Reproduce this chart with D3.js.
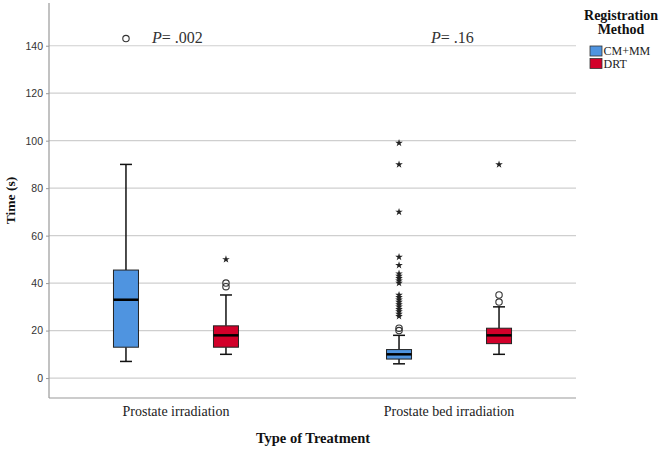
<!DOCTYPE html>
<html><head><meta charset="utf-8">
<script src="https://cdn.jsdelivr.net/npm/d3@7"></script>
<style>body{margin:0;background:#fff}svg{display:block}
.serif{font-family:"Liberation Serif","Times New Roman",serif !important}
</style>
</head><body><div id="chart"></div>
<script>
const categories = ["Prostate irradiation", "Prostate bed irradiation"];
const series = ["CM+MM", "DRT"];
const colors = ["#4f94e0", "#d2002a"];
// box stats: [whiskerLow, q1, median, q3, whiskerHigh]
const boxCMMM = [[7, 13, 33, 45.5, 90], [6, 8, 10, 12, 18]];
const boxDRT  = [[10, 13, 18, 22, 35], [10, 14.5, 18, 21, 30]];
const circlesCMMM = [[143], [20, 21]];
const circlesDRT  = [[38.5, 40], [32, 35]];
const starsCMMM = [[], [26, 27, 28, 29, 30, 31, 32, 33, 34, 35, 40, 41, 42, 43, 44, 47.5, 51, 70, 90, 99]];
const starsDRT  = [[50], [90]];
const pLabels = [".002", ".16"];
const yTicks = [0, 20, 40, 60, 80, 100, 120, 140];

const W = 661, H = 450;
const svg = d3.select("#chart").append("svg").attr("width", W).attr("height", H);
const pLeft = 49, pRight = 576, pTop = 3, pBottom = 398;

const y = d3.scaleLinear().domain([-8.4, 158]).range([pBottom, pTop]);
const x = d3.scaleBand().domain(categories).range([pLeft, pRight]).paddingInner(0.5).paddingOuter(0.215);
const xs = d3.scalePoint().domain(series).range([-50, 50]);
const cx = (cat, s) => x(cat) + x.bandwidth() / 2 + xs(s);

// gridlines
svg.append("g").selectAll("line").data(yTicks).join("line")
  .attr("x1", pLeft).attr("x2", pRight).attr("y1", d => y(d)).attr("y2", d => y(d))
  .attr("stroke", "#cfcfcf").attr("stroke-width", 1.2);

// y axis
const yAxis = svg.append("g").attr("transform", `translate(${pLeft},0)`)
  .call(d3.axisLeft(y).tickValues(yTicks).tickSize(3).tickPadding(3));
yAxis.select(".domain").remove();
yAxis.selectAll(".tick line").attr("stroke", "#999");
yAxis.selectAll("text").style("font-family", "'Liberation Sans', Arial, sans-serif").style("font-size", "10.5px").attr("fill", "#333");
svg.append("line").attr("x1", pLeft).attr("x2", pLeft).attr("y1", pTop).attr("y2", pBottom).attr("stroke", "#999").attr("stroke-width", 1.2);
svg.append("line").attr("x1", pLeft).attr("x2", pRight).attr("y1", pBottom).attr("y2", pBottom).attr("stroke", "#999").attr("stroke-width", 1.2);

// x category labels
const xAxis = svg.append("g").attr("transform", `translate(0,${pBottom})`).call(d3.axisBottom(x).tickSize(0).tickPadding(8));
xAxis.select(".domain").remove();
xAxis.attr("font-family", null);
xAxis.selectAll("text").attr("class", "serif").style("font-size", "14px").attr("fill", "#222");

// titles
svg.append("text").attr("class", "serif").attr("x", 313).attr("y", 443).attr("text-anchor", "middle")
  .attr("font-weight", "bold").style("font-size", "14.5px").attr("fill", "#111")
  .text("Type of Treatment");
svg.append("text").attr("class", "serif").attr("transform", `translate(15,${(pTop + pBottom) / 2}) rotate(-90)`).attr("text-anchor", "middle")
  .attr("font-weight", "bold").style("font-size", "13.5px").attr("fill", "#111")
  .text("Time (s)");

// boxes
const boxW = 25, capW = 12;
const allBoxes = [boxCMMM, boxDRT];
const allCircles = [circlesCMMM, circlesDRT];
const allStars = [starsCMMM, starsDRT];
const star = d3.symbol().type(d3.symbolStar).size(18);
series.forEach((s, si) => {
  categories.forEach((c, ci) => {
    const [lo, q1, med, q3, hi] = allBoxes[si][ci];
    const X = cx(c, s);
    const g = svg.append("g");
    g.append("line").attr("x1", X).attr("x2", X).attr("y1", y(hi)).attr("y2", y(q3)).attr("stroke", "#111").attr("stroke-width", 1.5);
    g.append("line").attr("x1", X).attr("x2", X).attr("y1", y(q1)).attr("y2", y(lo)).attr("stroke", "#111").attr("stroke-width", 1.5);
    g.append("line").attr("x1", X - capW / 2).attr("x2", X + capW / 2).attr("y1", y(hi)).attr("y2", y(hi)).attr("stroke", "#111").attr("stroke-width", 1.5);
    g.append("line").attr("x1", X - capW / 2).attr("x2", X + capW / 2).attr("y1", y(lo)).attr("y2", y(lo)).attr("stroke", "#111").attr("stroke-width", 1.5);
    g.append("rect").attr("x", X - boxW / 2).attr("width", boxW).attr("y", y(q3)).attr("height", y(q1) - y(q3))
      .attr("fill", colors[si]).attr("stroke", "#222").attr("stroke-width", 1);
    g.append("line").attr("x1", X - boxW / 2).attr("x2", X + boxW / 2).attr("y1", y(med)).attr("y2", y(med)).attr("stroke", "#000").attr("stroke-width", 2.5);
    g.selectAll("circle").data(allCircles[si][ci]).join("circle")
      .attr("cx", X).attr("cy", d => y(d)).attr("r", 3.2).attr("fill", "none").attr("stroke", "#333").attr("stroke-width", 1.1);
    g.selectAll("path.star").data(allStars[si][ci]).join("path").attr("class", "star")
      .attr("transform", d => `translate(${X},${y(d)})`).attr("d", star).attr("fill", "#222");
  });
});

// P labels
categories.forEach((c, ci) => {
  const t = svg.append("text").attr("class", "serif").attr("x", ci === 0 ? 152 : 431).attr("y", 43)
    .style("font-size", "16px").attr("fill", "#333");
  t.append("tspan").attr("font-style", "italic").text("P");
  t.append("tspan").text("= " + pLabels[ci]);
});

// legend
const lg = svg.append("g");
lg.append("text").attr("class", "serif").attr("x", 621).attr("y", 20).attr("text-anchor", "middle")
  .attr("font-weight", "bold").style("font-size", "14px").attr("fill", "#111").text("Registration");
lg.append("text").attr("class", "serif").attr("x", 621).attr("y", 34).attr("text-anchor", "middle")
  .attr("font-weight", "bold").style("font-size", "14px").attr("fill", "#111").text("Method");
series.forEach((s, i) => {
  lg.append("rect").attr("x", 590).attr("y", 46 + i * 12.5).attr("width", 12).attr("height", 10)
    .attr("fill", colors[i]).attr("stroke", "#333").attr("stroke-width", 0.8);
  lg.append("text").attr("class", "serif").attr("x", 603.5).attr("y", 55 + i * 12.5)
    .style("font-size", "12px").attr("fill", "#222").text(s);
});
</script></body></html>
